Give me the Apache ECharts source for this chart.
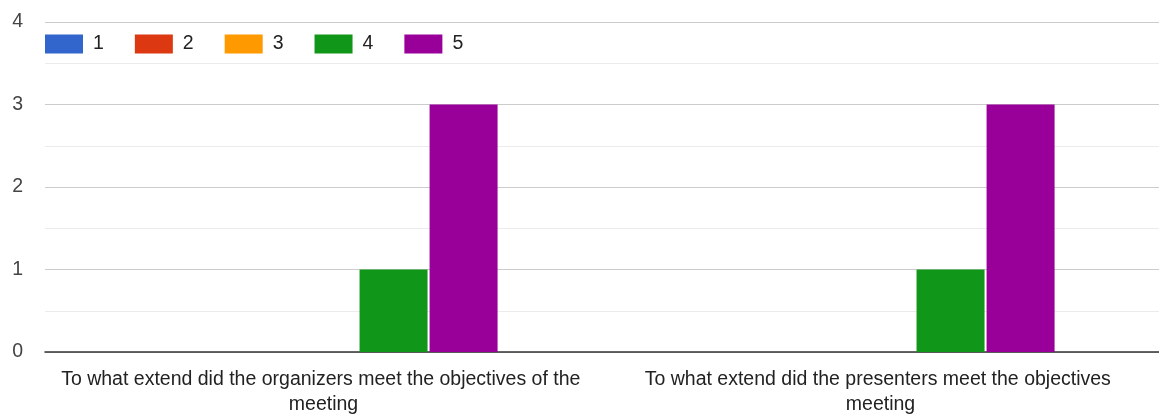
<!DOCTYPE html>
<html><head><meta charset="utf-8">
<script src="https://cdn.jsdelivr.net/npm/echarts@6/dist/echarts.min.js"></script>
<style>html,body{margin:0;padding:0;background:#fff}#c{width:1159px;height:417px}</style>
</head><body><div id="c"></div>
<script>
const categories = [
  "To what extend did the organizers meet the objectives of the meeting",
  "To what extend did the presenters meet the objectives meeting"
];
const seriesNames = ["1", "2", "3", "4", "5"];
const values1 = [0, 0];
const values2 = [0, 0];
const values3 = [0, 0];
const values4 = [1, 1];
const values5 = [3, 3];
const yTicks = [0, 1, 2, 3, 4];
const colors = ["#3366cc", "#dc3912", "#ff9900", "#109618", "#990099"];

const allValues = [values1, values2, values3, values4, values5];
const chart = echarts.init(document.getElementById('c'), null, {renderer: 'canvas'});
const font = "'Liberation Sans', Arial, sans-serif";
chart.setOption({
  animation: false,
  color: colors,
  textStyle: {fontFamily: font},
  legend: {
    left: 40, top: 29,
    itemWidth: 38, itemHeight: 19, itemGap: 31,
    icon: 'rect',
    textStyle: {fontSize: 19.5, color: '#222', fontFamily: font, padding: [2, 0, 0, 5]},
    data: seriesNames
  },
  grid: {left: 45, right: 0, top: 22, bottom: 65, containLabel: false},
  xAxis: {
    type: 'category',
    data: categories,
    axisTick: {show: false},
    axisLine: {lineStyle: {color: '#333', width: 1.5}},
    axisLabel: {
      interval: 0, fontSize: 19.5, color: '#222', fontFamily: font,
      width: 538, overflow: 'break', lineHeight: 25, margin: 15
    }
  },
  yAxis: {
    type: 'value', min: yTicks[0], max: yTicks[yTicks.length - 1], interval: 1,
    axisLine: {show: false}, axisTick: {show: false},
    axisLabel: {fontSize: 19.5, color: '#444', margin: 22, fontFamily: font},
    splitLine: {lineStyle: {color: '#cccccc', width: 1.2}},
    minorTick: {show: false, splitNumber: 2},
    minorSplitLine: {show: true, lineStyle: {color: '#ebebeb', width: 1}}
  },
  series: seriesNames.map((n, i) => ({
    name: n, type: 'bar', data: allValues[i],
    barWidth: 68, barGap: '3%', barCategoryGap: '38%'
  }))
});
</script></body></html>
